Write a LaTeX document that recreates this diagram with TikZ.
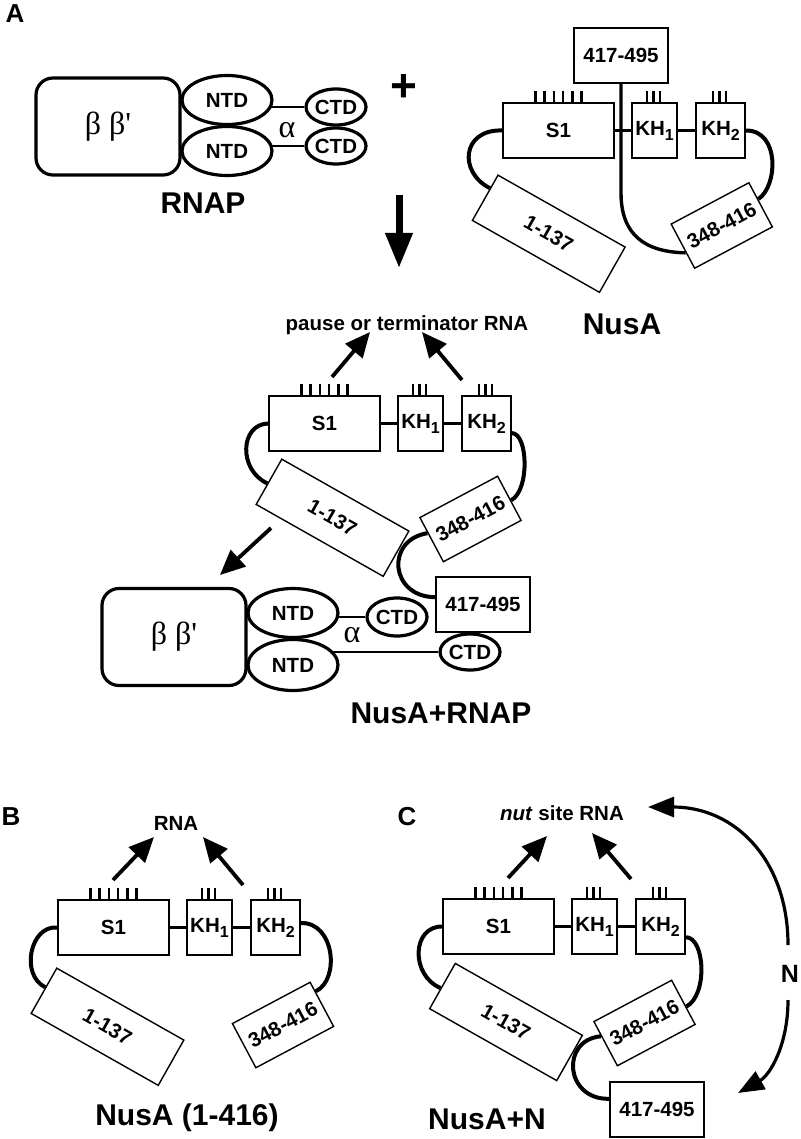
\documentclass[tikz,border=0pt]{standalone}
\usepackage{fontspec}
\setmainfont{Liberation Sans}
\newfontfamily\grk{Liberation Serif}
\usetikzlibrary{shapes.geometric,arrows.meta,calc}
\pgfdeclarelayer{bgzero}
\pgfdeclarelayer{background}
\pgfsetlayers{bgzero,background,main}
\newcommand\lbl{\fontsize{20.5}{24}\selectfont\bfseries}
\newcommand\biglbl{\fontsize{30}{36}\selectfont\bfseries}
\newcommand\panellbl{\fontsize{26}{30}\selectfont\bfseries}
\newcommand\plusfont{\fontsize{46}{46}\selectfont\bfseries}
\newcommand\nfont{\fontsize{25}{30}\selectfont\bfseries}
\newcommand\grkfont{\fontsize{32}{36}\selectfont\grk}
\newcommand\KHa{KH\raisebox{-5pt}{\fontsize{16}{16}\selectfont 1}}
\newcommand\KHb{KH\raisebox{-5pt}{\fontsize{16}{16}\selectfont 2}}
\tikzset{
 dom/.style={draw, line width=1.4pt, minimum height=55pt, inner sep=0pt, font=\lbl, fill=white},
 rbox/.style={draw, line width=1.4pt, inner sep=0pt, font=\lbl, fill=white},
 s137/.style={rbox, minimum width=146pt, minimum height=52pt, rotate=-29.5},
 s348/.style={rbox, minimum width=88pt, minimum height=50pt, rotate=28},
 s417/.style={rbox, minimum width=94pt, minimum height=55pt},
 bb/.style={draw, line width=3.2pt, rounded corners=17pt, minimum width=144pt, minimum height=97pt, inner sep=0pt, font=\grkfont, fill=white},
 el/.style={ellipse, draw, line width=3.2pt, fill=white, inner sep=0pt, font=\lbl},
 ntd/.style={el, minimum width=90pt, minimum height=49pt},
 ctd/.style={el, minimum width=60pt, minimum height=36pt},
 conn/.style={line width=2.6pt},
 tickmark/.style={line width=2.6pt},
 loopl/.style={line width=4pt},
 rarrow/.style={line width=3.8pt, -{Triangle[length=25pt,width=22pt]}},
 narrow/.style={line width=3.2pt, -{Triangle[length=26pt,width=20pt]}},
}
\newcommand\NusaCore[3]{%
 \begin{scope}[shift={(#2,#3)}]
  \node[dom, minimum width=111pt] (#1s1) at (55.5,27.5) {S1};
  \node[dom, minimum width=45pt] (#1kh1) at (151.5,27.5) {\KHa};
  \node[dom, minimum width=49pt] (#1kh2) at (217.5,27.5) {\KHb};
  \foreach \i in {0,...,5} \draw[tickmark] ({32.25+9.3*\i},0) -- ++(0,-12);
  \foreach \i in {-1,0,1} \draw[tickmark] ({150.5+6.5*\i},0) -- ++(0,-12);
  \foreach \i in {-1,0,1} \draw[tickmark] ({216.5+6.5*\i},0) -- ++(0,-12);
  \draw[conn] (#1s1) -- (#1kh1);
  \draw[conn] (#1kh1) -- (#1kh2);
 \end{scope}}
\begin{document}
\begin{tikzpicture}[x=1pt,y=-1pt]
\begin{pgfonlayer}{bgzero}
\fill[white] (0,0) rectangle (800,1139);
\end{pgfonlayer}
\useasboundingbox (0,0) rectangle (800,1139);
% ---------------- Panel A top ----------------
\node[font=\panellbl, anchor=base] (lA) at (15,23) {A};
\node[bb] (tbb) at (108,126.5) {β β\textquotesingle};
\node[ntd] (tntd1) at (227,100) {NTD};
\node[ntd] (tntd2) at (227,151) {NTD};
\node[ctd] (tctd1) at (336,107) {CTD};
\node[ctd] (tctd2) at (336,146) {CTD};
\node[font=\grkfont] (talpha) at (287,130) {α};
\begin{pgfonlayer}{background}
\draw[conn] (tctd1.west) -- (tctd1.west -| tntd1.center);
\draw[conn] (tctd2.west) -- (tctd2.west -| tntd2.center);
\end{pgfonlayer}
\node[font=\biglbl, anchor=base] (trnap) at (203,214) {RNAP};
\node[font=\plusfont] (plus) at (404,88) {+};
\coordinate (dA1) at (399,195);
\coordinate (dA2) at (399,268);
\draw[line width=7pt, -{Triangle[length=35pt,width=26pt]}] (dA1) -- (dA2);
% NusA free
\NusaCore{t}{503}{103}
\node[s137] (t137) at (548.75,233.75) {1-137};
\node[s348] (t348) at (721.75,225.5) {348-416};
\node[s417] (t417) at (621,55.5) {417-495};
\draw[loopl] (ts1.west) .. controls (462,129) and (458,172) .. ($(t137.north west)!0.3!(t137.south west)$);
\draw[loopl] (tkh2.east) .. controls (780,130) and (778,186) .. ($(t348.north east)!0.38!(t348.south east)$);
\draw[line width=3.4pt] (t417.south) -- (621,193) .. controls (621,235) and (645,252) .. ($(t348.north west)!0.64!(t348.south west)$);
\node[font=\biglbl, anchor=base] (tnusa) at (622,334) {NusA};
% ---------------- Panel A bottom ----------------
\node[font=\lbl, anchor=base] (mrna) at (407,330) {pause or terminator RNA};
\coordinate (ma1) at (332,377); \coordinate (ma1t) at (370,332);
\coordinate (ma2) at (462,380); \coordinate (ma2t) at (422,332);
\draw[rarrow] (ma1) -- (ma1t);
\draw[rarrow] (ma2) -- (ma2t);
\NusaCore{m}{269}{396}
\node[s137] (m137) at (332.5,517.75) {1-137};
\node[s348] (m348) at (470.5,519) {348-416};
\node[s417] (m417) at (483,604.5) {417-495};
\draw[loopl] (ms1.west) .. controls (240,424) and (238,470) .. ($(m137.north west)!0.54!(m137.south west)$);
\draw[loopl] ($(mkh2.north east)!0.67!(mkh2.south east)$) .. controls (528,433) and (530,490) .. ($(m348.north east)!0.55!(m348.south east)$);
\draw[loopl] ($(m348.north west)!0.35!(m348.south west)$) .. controls (385,540) and (390,597) .. ($(m417.north west)!0.37!(m417.south west)$);
\node[bb] (mbb) at (174,637) {β β\textquotesingle};
\node[ntd] (mntd1) at (293,613) {NTD};
\node[ntd, minimum height=51pt] (mntd2) at (293,665) {NTD};
\node[ctd, minimum height=38pt] (mctd1) at (397,617) {CTD};
\node[ctd] (mctd2) at (470,652) {CTD};
\node[font=\grkfont] (malpha) at (352,635) {α};
\begin{pgfonlayer}{background}
\draw[conn] (mctd1.west) -- (mctd1.west -| mntd1.center);
\draw[conn] (mctd2.west) -- (mctd2.west -| mntd2.center);
\end{pgfonlayer}
\coordinate (mb1) at (271,528); \coordinate (mb1t) at (220,575);
\draw[rarrow] (mb1) -- (mb1t);
\node[font=\biglbl, anchor=base] (mlabel) at (441,723) {NusA+RNAP};
% ---------------- Panel B ----------------
\node[font=\panellbl, anchor=base] (lB) at (11,825) {B};
\node[font=\lbl, anchor=base] (brna) at (176,830) {RNA};
\coordinate (ba1) at (113,880); \coordinate (ba1t) at (154,837);
\coordinate (ba2) at (243,885); \coordinate (ba2t) at (203,837);
\draw[rarrow] (ba1) -- (ba1t);
\draw[rarrow] (ba2) -- (ba2t);
\NusaCore{b}{58}{900}
\node[s137] (b137) at (107.5,1026.75) {1-137};
\node[s348] (b348) at (283,1025) {348-416};
\draw[loopl] (bs1.west) .. controls (30,925) and (20,975) .. ($(b137.north west)!0.43!(b137.south west)$);
\draw[loopl] ($(bkh2.north east)!0.42!(bkh2.south east)$) .. controls (335,922) and (340,980) .. ($(b348.north east)!0.22!(b348.south east)$);
\node[font=\biglbl, anchor=base] (blabel) at (187,1125) {NusA (1-416)};
% ---------------- Panel C ----------------
\node[font=\panellbl, anchor=base] (lC) at (407,825) {C};
\node[font=\lbl, anchor=base] (crna) at (562,820) {\textit{nut} site RNA};
\coordinate (ca1) at (508,878); \coordinate (ca1t) at (547,836);
\coordinate (ca2) at (631,879); \coordinate (ca2t) at (592,833);
\draw[rarrow] (ca1) -- (ca1t);
\draw[rarrow] (ca2) -- (ca2t);
\NusaCore{c}{443}{899}
\node[s137] (c137) at (506,1022) {1-137};
\node[s348] (c348) at (644.5,1023) {348-416};
\node[s417] (c417) at (657,1109.5) {417-495};
\draw[loopl] (cs1.west) .. controls (412,926) and (410,975) .. ($(c137.north west)!0.55!(c137.south west)$);
\draw[loopl] ($(ckh2.north east)!0.69!(ckh2.south east)$) .. controls (705,937) and (708,995) .. ($(c348.north east)!0.6!(c348.south east)$);
\draw[loopl] ($(c348.north west)!0.33!(c348.south west)$) .. controls (560,1040) and (565,1100) .. ($(c417.north west)!0.31!(c417.south west)$);
\node[font=\nfont, anchor=base] (cN) at (790,982) {N};
\coordinate (cn1) at (788,945); \coordinate (cn1t) at (648,807);
\coordinate (cn2) at (788,1000); \coordinate (cn2t) at (738,1093);
\draw[narrow] (cn1) .. controls (788,860) and (735,807) .. (cn1t);
\draw[narrow] (cn2) .. controls (788,1045) and (770,1075) .. (cn2t);
\node[font=\biglbl, anchor=base] (clabel) at (487,1129) {NusA+N};
\end{tikzpicture}
\end{document}
